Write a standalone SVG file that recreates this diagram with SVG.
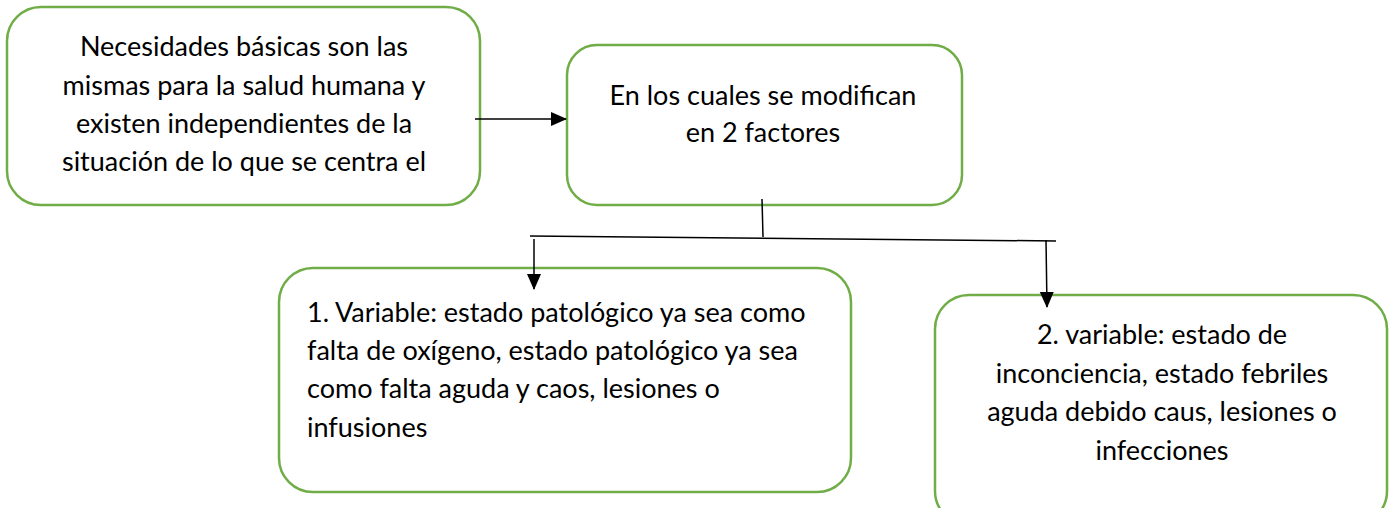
<svg xmlns="http://www.w3.org/2000/svg" width="1389" height="508" viewBox="0 0 1389 508">
<style>
.box{fill:#fff;stroke:#70ad47;stroke-width:2.5}
.t{font-family:Lato,"Open Sans",sans-serif;font-size:27px;fill:#000}
.c{text-anchor:middle}
.ln{stroke:#000;stroke-width:1.5;fill:none}
</style>
<defs>
<marker id="ahb" markerWidth="16" markerHeight="16" refX="15" refY="8" orient="auto" markerUnits="userSpaceOnUse" viewBox="0 0 16 16">
<path d="M0,1 L16,8 L0,15 z" fill="#000"/>
</marker>
</defs>
<g id="n1">
<rect class="box" x="7" y="7" width="473" height="198" rx="34"/>
<text class="t c" x="244" y="56">Necesidades básicas son las</text>
<text class="t c" x="244" y="95">mismas para la salud humana y</text>
<text class="t c" x="244" y="133">existen independientes de la</text>
<text class="t c" x="244" y="171">situación de lo que se centra el</text>
</g>
<g id="n2">
<rect class="box" x="567" y="45" width="395" height="160" rx="30"/>
<text class="t c" x="763" y="105">En los cuales se modifican</text>
<text class="t c" x="763" y="142">en 2 factores</text>
</g>
<g id="n3">
<rect class="box" x="279" y="268" width="572" height="224" rx="34"/>
<text class="t" x="307" y="322">1. Variable: estado patológico ya sea como</text>
<text class="t" x="307" y="360">falta de oxígeno, estado patológico ya sea</text>
<text class="t" x="307" y="398">como falta aguda y caos, lesiones o</text>
<text class="t" x="307" y="437">infusiones</text>
</g>
<g id="n4">
<rect class="box" x="935" y="295" width="452" height="230" rx="34"/>
<text class="t c" x="1162" y="344">2. variable: estado de</text>
<text class="t c" x="1162" y="383">inconciencia, estado febriles</text>
<text class="t c" x="1162" y="421">aguda debido caus, lesiones o</text>
<text class="t c" x="1162" y="460">infecciones</text>
</g>
<g id="connectors">
<line class="ln" x1="475" y1="119" x2="566" y2="119" marker-end="url(#ahb)"/>
<line class="ln" x1="762" y1="199" x2="763" y2="237"/>
<line class="ln" x1="530" y1="236" x2="1056" y2="241"/>
<line class="ln" x1="534" y1="239" x2="534" y2="289" marker-end="url(#ahb)"/>
<line class="ln" x1="1046" y1="240" x2="1047" y2="307" marker-end="url(#ahb)"/>
</g>
</svg>
